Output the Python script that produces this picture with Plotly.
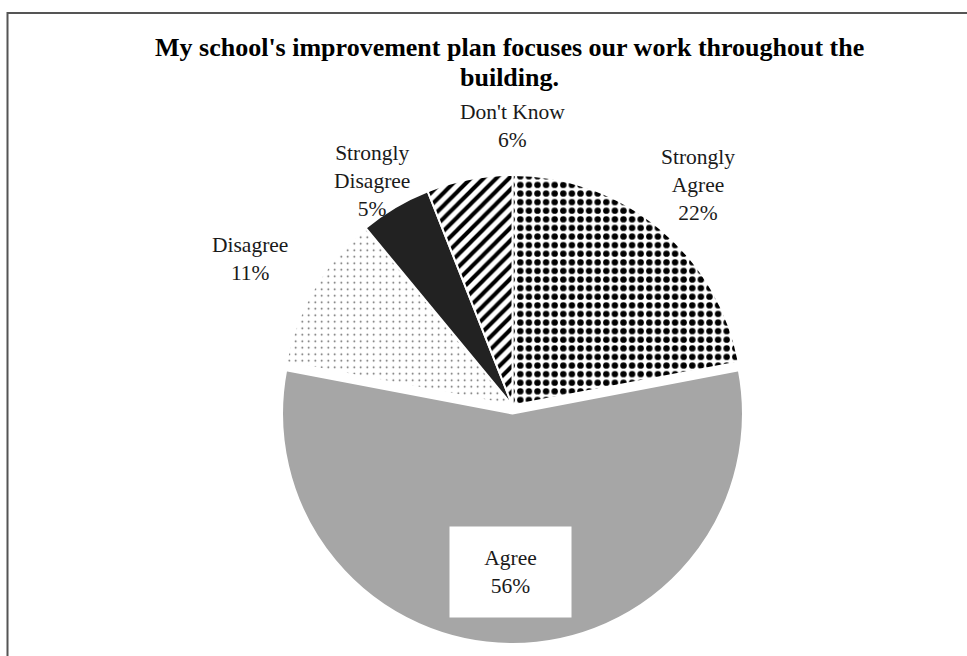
import plotly.graph_objects as go

# Survey responses, clockwise from 12 o'clock
categories = ["Strongly Agree", "Agree", "Disagree", "Strongly Disagree", "Don't Know"]
percents = [22, 56, 11, 5, 6]
label_lines = ["Strongly<br>Agree", "Agree", "Disagree", "Strongly<br>Disagree", "Don't Know"]

title_lines = ["My school's improvement plan focuses our work throughout the", "building."]

W, H = 967, 656
SERIF = "Liberation Serif, Times New Roman, serif"

fills = ["#ffffff", "#a6a6a6", "#ffffff", "#222222", "#ffffff"]
pat_shape = [".", "", ".", "", "/"]
pat_fg = ["#000000", "#a6a6a6", "#555555", "#222222", "#000000"]
pat_size = [8.6, 8, 6.5, 8, 9]
pat_solid = [0.44, 0.1, 0.05, 0.1, 0.45]
pulls = [0, 0.035, 0, 0, 0]

fig = go.Figure(
    go.Pie(
        labels=categories,
        values=percents,
        sort=False,
        direction="clockwise",
        rotation=0,
        pull=pulls,
        textinfo="none",
        hoverinfo="label+percent",
        showlegend=False,
        marker=dict(
            colors=fills,
            line=dict(color="#ffffff", width=2),
            pattern=dict(
                shape=pat_shape,
                fgcolor=pat_fg,
                bgcolor=fills,
                size=pat_size,
                solidity=pat_solid,
                fillmode="replace",
            ),
        ),
        domain=dict(x=[274 / W, 751 / W], y=[12 / H, 489 / H]),
    )
)

# Data labels (pixel centres of each label block)
label_pos = [(698, 185), (510, 572), (250, 259), (372, 181), (512, 126)]
for i, (txt, v) in enumerate(zip(label_lines, percents)):
    px, py = label_pos[i]
    ann = dict(
        text=f"{txt}<br>{v}%",
        x=px / W,
        y=1 - py / H,
        xref="paper",
        yref="paper",
        xanchor="center",
        yanchor="middle",
        showarrow=False,
        font=dict(family=SERIF, size=21.5, color="#1a1a1a"),
    )
    if categories[i] == "Agree":
        ann.update(bgcolor="#ffffff", width=117, height=86, borderpad=2)
    fig.add_annotation(**ann)

# Two-line bold title
for line, py in zip(title_lines, [48, 77]):
    fig.add_annotation(
        text=f"<b>{line}</b>",
        x=509 / W,
        y=1 - py / H,
        xref="paper",
        yref="paper",
        xanchor="center",
        yanchor="middle",
        showarrow=False,
        font=dict(family=SERIF, size=26, color="#000000"),
    )

# Chart frame
fig.add_shape(
    type="rect",
    xref="paper",
    yref="paper",
    x0=7.5 / W,
    x1=1.02,
    y0=-0.02,
    y1=1 - 13 / H,
    line=dict(color="#555555", width=2),
)

fig.update_layout(
    width=W,
    height=H,
    margin=dict(l=0, r=0, t=0, b=0),
    paper_bgcolor="#ffffff",
    plot_bgcolor="#ffffff",
)

fig.write_html("out.html")
